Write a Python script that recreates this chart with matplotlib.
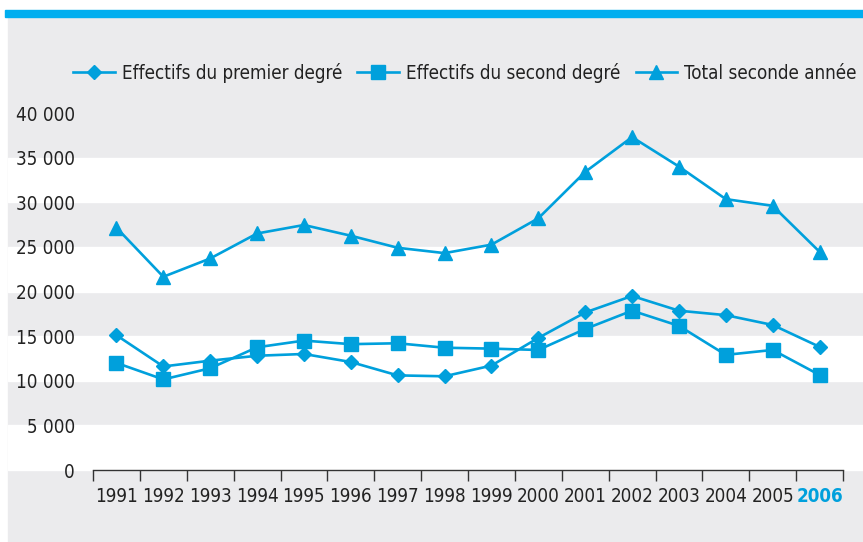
import numpy as np
import matplotlib.pyplot as plt
from matplotlib.patches import Rectangle
from matplotlib.transforms import blended_transform_factory

years = [str(y) for y in range(1991, 2007)]
premier = [15100, 11600, 12250, 12800, 13000, 12100, 10600, 10500,
           11700, 14800, 17650, 19500, 17850, 17350, 16250, 13800]
second = [12000, 10150, 11400, 13750, 14500, 14100, 14200, 13700,
          13600, 13450, 15800, 17850, 16150, 12900, 13450, 10650]
total = [27150, 21650, 23700, 26500, 27450, 26250, 24900, 24300,
         25250, 28200, 33400, 37300, 34000, 30350, 29600, 24450]
yticks = [0, 5000, 10000, 15000, 20000, 25000, 30000, 35000, 40000]
ylabels = ['0', '5 000', '10 000', '15 000', '20 000', '25 000', '30 000', '35 000', '40 000']

blue = '#00A0DC'
grey = '#EBEBED'
plt.rcParams['font.family'] = ['DejaVu Sans']
plt.rcParams['font.stretch'] = 'condensed'

W, H = 863, 542
fig = plt.figure(figsize=(W / 100, H / 100), dpi=100, facecolor='white')
fig.patches.append(Rectangle((8 / W, 0), 1, 1 - 17 / H, transform=fig.transFigure,
                             color=grey, zorder=-10))
fig.patches.append(Rectangle((5 / W, 1 - 17 / H), 1, 7 / H, transform=fig.transFigure,
                             color='#00AEEF', zorder=-10))

ax = fig.add_axes([93 / W, 1 - 470 / H, 750 / W, 357 / H])
ax.patch.set_alpha(0)
ax.set_ylim(0, 40000)
ax.set_xlim(-0.5, len(years) - 0.5)

# white bands across the whole width
tr = blended_transform_factory(fig.transFigure, ax.transData)
for lo in [0, 10000, 20000, 30000]:
    fig.patches.append(Rectangle((8 / W, lo), 1, 5000, transform=tr,
                                 color='white', zorder=-5))

x = np.arange(len(years))
lw = 1.9
ax.plot(x, premier, color=blue, lw=lw, marker='D', ms=7.5, label='Effectifs du premier degré', clip_on=False)
ax.plot(x, second, color=blue, lw=lw, marker='s', ms=10, label='Effectifs du second degré', clip_on=False)
ax.plot(x, total, color=blue, lw=lw, marker='^', ms=10, label='Total seconde année', clip_on=False)

for s in ['top', 'right', 'left']:
    ax.spines[s].set_visible(False)
ax.spines['bottom'].set_color('#333333')
ax.spines['bottom'].set_linewidth(1)

ax.set_yticks(yticks)
ax.set_yticklabels(ylabels)
ax.tick_params(axis='y', length=0, pad=13, labelsize=13.5, labelcolor='#222222')

ax.set_xticks(x)
ax.set_xticklabels(years)
ax.set_xticks(np.arange(-0.5, len(years), 1), minor=True)
ax.tick_params(axis='x', which='major', length=0, pad=12, labelsize=13.5, labelcolor='#222222')
ax.tick_params(axis='x', which='minor', length=8, width=1, color='#333333')
last = ax.get_xticklabels()[-1]
last.set_color(blue)
last.set_fontweight('bold')

fig.legend(loc='center', bbox_to_anchor=(465 / W, 1 - 73 / H), ncol=3, frameon=False,
           fontsize=13.5, handlelength=2.2, handletextpad=0.4, columnspacing=0.8,
           labelcolor='#222222')

fig.savefig('out.png', dpi=100)
